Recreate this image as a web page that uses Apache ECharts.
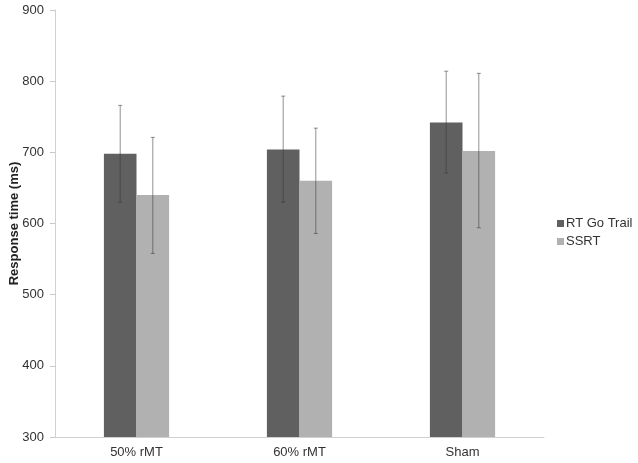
<!DOCTYPE html>
<html>
<head>
<meta charset="utf-8">
<script src="https://cdn.jsdelivr.net/npm/echarts@6/dist/echarts.min.js"></script>
<style>
  html, body { margin: 0; padding: 0; background: #fff; }
  #main { width: 638px; height: 463px; }
</style>
</head>
<body>
<div id="main"></div>
<script>
// data
var categories = ['50% rMT', '60% rMT', 'Sham'];
var yTicks = [300, 400, 500, 600, 700, 800, 900];

var rtGo     = [698, 704, 742];
var rtGoLow  = [630, 630, 671];
var rtGoHigh = [766, 779, 814];

var ssrt     = [640, 660, 702];
var ssrtLow  = [558, 586, 594];
var ssrtHigh = [721, 734, 811];

var FONT = 'Liberation Sans, Arial, sans-serif';
var BAR_SHARE = 0.2; // each bar takes 20% of the category band

function errData(low, high) {
  return categories.map(function (c, i) {
    return [i, low[i], high[i]];
  });
}

// draws a whisker for one bar, shifted to that bar's place in the group
function errRenderer(shift) {
  return function (params, api) {
    var band = api.size([1, 0])[0];
    var lo = api.coord([api.value(0), api.value(1)]);
    var hi = api.coord([api.value(0), api.value(2)]);
    var x = lo[0] + band * BAR_SHARE * shift;
    var cap = 2;
    var style = { stroke: 'rgba(55,55,55,0.55)', lineWidth: 1 };
    return {
      type: 'group',
      children: [
        { type: 'line', shape: { x1: x, y1: hi[1], x2: x, y2: lo[1] }, style: style },
        { type: 'line', shape: { x1: x - cap, y1: hi[1], x2: x + cap, y2: hi[1] }, style: style },
        { type: 'line', shape: { x1: x - cap, y1: lo[1], x2: x + cap, y2: lo[1] }, style: style }
      ]
    };
  };
}

var chart = echarts.init(document.getElementById('main'));

chart.setOption({
  backgroundColor: '#ffffff',
  animation: false,
  textStyle: { fontFamily: FONT },
  grid: { left: 55, right: 94, top: 10, bottom: 26, outerBoundsMode: 'none' },
  legend: {
    orient: 'vertical',
    left: 552,
    top: 212,
    itemWidth: 7,
    itemHeight: 7,
    itemGap: 5,
    icon: 'rect',
    textStyle: { fontFamily: FONT, fontSize: 13, color: '#333', padding: [0, 0, 0, -3] },
    data: ['RT Go Trail', 'SSRT']
  },
  xAxis: {
    type: 'category',
    data: categories,
    axisLine: { lineStyle: { color: '#d0d0d0' } },
    axisTick: { show: false },
    axisLabel: { color: '#333', fontSize: 13, fontFamily: FONT, margin: 9 }
  },
  yAxis: {
    type: 'value',
    min: yTicks[0],
    max: yTicks[yTicks.length - 1],
    interval: 100,
    name: 'Response time (ms)',
    nameLocation: 'middle',
    nameGap: 34,
    nameRotate: 90,
    nameMoveOverlap: false,
    nameTextStyle: { fontWeight: 'bold', fontSize: 13, color: '#222', fontFamily: FONT },
    axisLine: { show: true, lineStyle: { color: '#d0d0d0' } },
    axisTick: { show: true, length: 5, lineStyle: { color: '#c8c8c8' } },
    splitLine: { show: false },
    axisLabel: { color: '#333', fontSize: 13, fontFamily: FONT, margin: 11 }
  },
  series: [
    {
      name: 'RT Go Trail',
      type: 'bar',
      data: rtGo,
      barWidth: '20%',
      barGap: '0%',
      itemStyle: { color: '#606060' }
    },
    {
      name: 'SSRT',
      type: 'bar',
      data: ssrt,
      barWidth: '20%',
      barGap: '0%',
      itemStyle: { color: '#b1b1b1' }
    },
    {
      type: 'custom',
      renderItem: errRenderer(-0.5),
      data: errData(rtGoLow, rtGoHigh),
      encode: { x: 0, y: [1, 2] },
      z: 10
    },
    {
      type: 'custom',
      renderItem: errRenderer(0.5),
      data: errData(ssrtLow, ssrtHigh),
      encode: { x: 0, y: [1, 2] },
      z: 10
    }
  ]
});
</script>
</body>
</html>
